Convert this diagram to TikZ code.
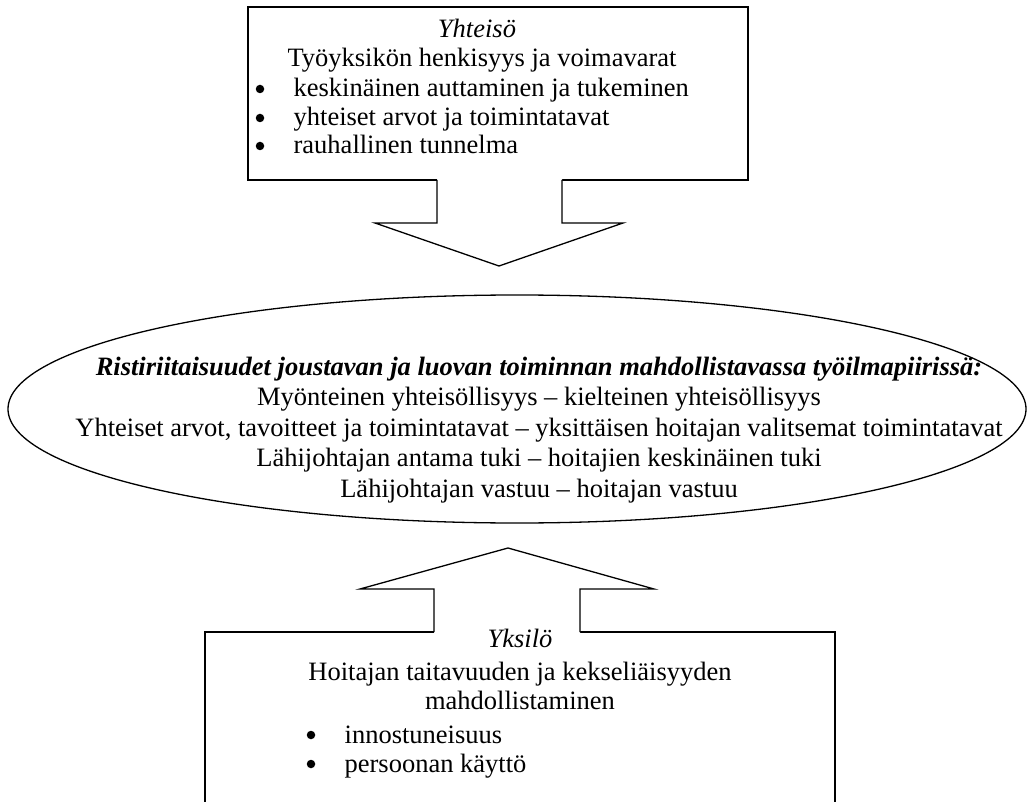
\documentclass[tikz,border=0pt]{standalone}
\usepackage{fontspec}
\setmainfont{Liberation Serif}
\usetikzlibrary{shapes.geometric}
\newcommand{\vali}{33}
\newcommand{\kohta}[4]{
	\node[dot] (#1b) at (#2,#3-8) {};
	\node[item] (#1) at (#2+\vali,#3) {#4};
	}
\newcommand{\rivi}[3]{
	\node[txt] (#1) at (539,#2) {#3};
	}
\begin{document}
\begin{tikzpicture}[
      x=1pt, y=-1pt, %one unit is one pixel of the page
      line width=1.3pt,
      txt/.style={font=\fontsize{26.5}{30}\selectfont, inner sep=0pt, anchor=base},
      box/.style={draw, inner sep=0pt},
      dot/.style={circle, fill, inner sep=0pt, minimum size=8.5},
      item/.style={txt, anchor=base west},
      otsikko/.style={txt, font=\fontsize{26.5}{30}\selectfont\itshape},
      nuoli/.style={draw, line join=miter}
    ]
    \useasboundingbox (0,0) rectangle (1028,802);
    % Yhteiso box and its arrow
    \node[box, minimum width=500, minimum height=173] (yhteiso) at (498,93.5) {};
    \fill[white] (437,178) -- (437,223) -- (375,223) -- (499,266) -- (623,223) -- (562,223) -- (562,178) -- cycle;
    \draw[nuoli] (437,180) -- (437,223) -- (375,223) -- (499,266) -- (623,223) -- (562,223) -- (562,180);
    \node[otsikko] (yhteisoOts) at (477,38) {Yhteisö};
    \node[txt] (henki) at (482,67) {Työyksikön henkisyys ja voimavarat};
    \kohta{auttaminen}{260}{97}{keskinäinen auttaminen ja tukeminen};
    \kohta{arvot}{260}{126}{yhteiset arvot ja toimintatavat};
    \kohta{tunnelma}{260}{154}{rauhallinen tunnelma};
    % the ellipse of contradictions
    \node[draw, ellipse, minimum width=1018, minimum height=228, inner sep=0pt] (ristiriidat) at (517,409) {};
    \rivi{r0}{375}{\bfseries\itshape Ristiriitaisuudet joustavan ja luovan toiminnan mahdollistavassa työilmapiirissä:};
    \rivi{r1}{405}{Myönteinen yhteisöllisyys – kielteinen yhteisöllisyys};
    \rivi{r2}{436}{Yhteiset arvot, tavoitteet ja toimintatavat – yksittäisen hoitajan valitsemat toimintatavat};
    \rivi{r3}{466}{Lähijohtajan antama tuki – hoitajien keskinäinen tuki};
    \rivi{r4}{497}{Lähijohtajan vastuu – hoitajan vastuu};
    % Yksilo box and its arrow
    \node[box, minimum width=630, minimum height=200] (yksilo) at (520,732) {};
    \fill[white] (434,634) -- (434,589) -- (360,589) -- (508,548) -- (654,589) -- (580,589) -- (580,634) -- cycle;
    \draw[nuoli] (434,632) -- (434,589) -- (360,589) -- (508,548) -- (654,589) -- (580,589) -- (580,632);
    \node[otsikko] (yksiloOts) at (520,647) {Yksilö};
    \node[txt] (taito) at (520,680) {Hoitajan taitavuuden ja kekseliäisyyden};
    \node[txt] (mahd) at (520,709) {mahdollistaminen};
    \kohta{innostus}{311}{743}{innostuneisuus};
    \kohta{persoona}{311}{772}{persoonan käyttö};
\end{tikzpicture}
\end{document}
